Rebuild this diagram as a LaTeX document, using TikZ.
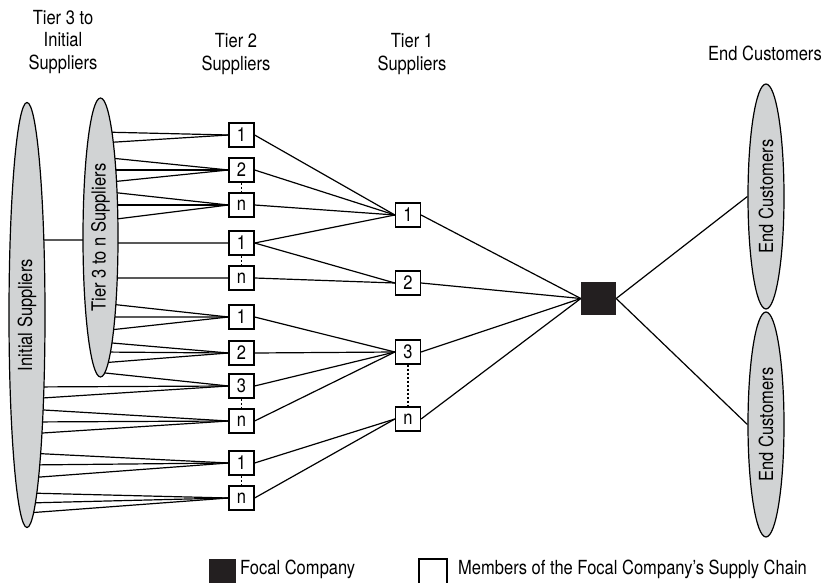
\documentclass[tikz,border=0pt]{standalone}
\usepackage{fontspec}
\setmainfont{TeX Gyre Heros}[FakeStretch=0.85]
\usetikzlibrary{shapes.geometric,calc,backgrounds}
\definecolor{ellgray}{RGB}{209,211,212}
\definecolor{focalblack}{RGB}{35,31,32}
\tikzset{
  member/.style={draw, fill=white, line width=1.2bp, minimum width=25bp, minimum height=24bp, inner sep=0pt},
  focal/.style={fill=focalblack, minimum width=35bp, minimum height=33bp, inner sep=0pt},
  group/.style={draw, fill=ellgray, ellipse, line width=1.2bp, rotate=90, inner sep=0pt},
  link/.style={line width=1.2bp},
  gap/.style={line width=1.4bp, dash pattern=on 2bp off 2bp},
  heading/.style={align=center},
  legend/.style={anchor=base west, inner sep=0pt}
}

\begin{document}
\begin{tikzpicture}[x=1bp,y=-1bp,font=\fontsize{19.5}{22.5}\selectfont]
  \useasboundingbox (0,0) rectangle (824,583);
  \node[heading] (h3) at (63,42) {Tier 3 to\\Initial\\Suppliers};
  \node[heading] (h2) at (236,54) {Tier 2\\Suppliers};
  \node[heading] (h1) at (412,54) {Tier 1\\Suppliers};
  \node[heading] (hc) at (765,53) {End Customers};

  \node[group, minimum width=425bp, minimum height=36bp] (init) at (27,315) {Initial Suppliers};
  \node[group, minimum width=279bp, minimum height=35bp] (t3n) at (100.5,237.5) {Tier 3 to n Suppliers};

  \node[member] (t2a) at (241.5,135) {1};
  \node[member] (t2b) at (241.5,170) {2};
  \node[member] (t2c) at (241.5,205) {n};
  \node[member] (t2d) at (241.5,243) {1};
  \node[member] (t2e) at (241.5,278) {n};
  \node[member] (t2f) at (241.5,317) {1};
  \node[member] (t2g) at (241.5,353) {2};
  \node[member] (t2h) at (241.5,386) {3};
  \node[member] (t2i) at (241.5,421) {n};
  \node[member] (t2j) at (241.5,463) {1};
  \node[member] (t2k) at (241.5,498) {n};

  \node[member] (t1a) at (408,215) {1};
  \node[member] (t1b) at (408,283) {2};
  \node[member] (t1c) at (408,352) {3};
  \node[member] (t1d) at (408,419) {n};

  \node[focal] (fc) at (598.5,298.5) {};

  \node[group, minimum width=225bp, minimum height=36bp] (ec1) at (766,196.5) {End Customers};
  \node[group, minimum width=225bp, minimum height=36bp] (ec2) at (766,424.5) {End Customers};

  \begin{pgfonlayer}{background}
    \draw[link] ($(init.center)+(0,-75)$) -- ($(t3n.center)+(0,2.5)$);
    \foreach \dy in {-105.5,-94.5} \draw[link] ($(t3n.center)+(0,\dy)$) -- (t2a.west);
    \foreach \dy in {-80.5,-67.5,-54.5} \draw[link] ($(t3n.center)+(0,\dy)$) -- (t2b.west);
    \foreach \dy in {-46.5,-32.5,-16.5} \draw[link] ($(t3n.center)+(0,\dy)$) -- (t2c.west);
    \draw[link] ($(t3n.center)+(0,5.5)$) -- (t2d.west);
    \draw[link] ($(t3n.center)+(0,40.5)$) -- (t2e.west);
    \foreach \dy in {65.5,79.5,93.5} \draw[link] ($(t3n.center)+(0,\dy)$) -- (t2f.west);
    \foreach \dy in {104.5,114.5,125.5} \draw[link] ($(t3n.center)+(0,\dy)$) -- (t2g.west);
    \draw[link] ($(t3n.center)+(0,135)$) -- (t2h.west);
    \foreach \dy in {72,84} \draw[link] ($(init.center)+(0,\dy)$) -- (t2h.west);
    \foreach \dy in {94,107,119} \draw[link] ($(init.center)+(0,\dy)$) -- (t2i.west);
    \foreach \dy in {138,150,163} \draw[link] ($(init.center)+(0,\dy)$) -- (t2j.west);
    \foreach \dy in {178,188,198} \draw[link] ($(init.center)+(0,\dy)$) -- (t2k.west);
  \end{pgfonlayer}

  \draw[gap] (t2b) -- (t2c);
  \draw[gap] (t2d) -- (t2e);
  \draw[gap] (t2h) -- (t2i);
  \draw[gap] (t2j) -- (t2k);
  \draw[gap] (t1c) -- (t1d);

  \foreach \s in {t2a,t2b,t2c,t2d} \draw[link] (\s.east) -- (t1a.west);
  \foreach \s in {t2d,t2e} \draw[link] (\s.east) -- (t1b.west);
  \foreach \s in {t2f,t2g,t2h,t2i} \draw[link] (\s.east) -- (t1c.west);
  \foreach \s in {t2j,t2k} \draw[link] (\s.east) -- (t1d.west);
  \foreach \s in {t1a,t1b,t1c,t1d} \draw[link] (\s.east) -- (fc.west);
  \draw[link] (fc.east) -- (ec1.north);
  \draw[link] (fc.east) -- (ec2.north);

  \node[focal, minimum width=27bp, minimum height=27bp] (lgf) at (222.5,572.5) {};
  \node[legend] (lgft) at (240,574) {Focal Company};
  \node[member, minimum width=28bp, minimum height=28bp] (lgm) at (433,573) {};
  \node[legend] (lgmt) at (458,574) {Members of the Focal Company’s Supply Chain};
\end{tikzpicture}
\end{document}
